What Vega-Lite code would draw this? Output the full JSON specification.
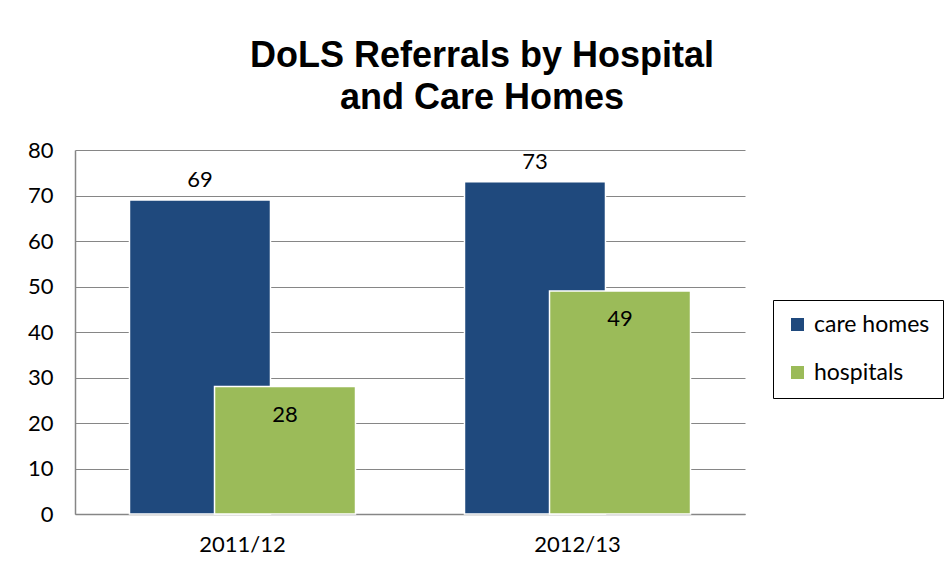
{
  "$schema": "https://vega.github.io/schema/vega-lite/v6.json",
  "autosize": "none",
  "width": 670,
  "height": 364,
  "padding": {"left": 75, "top": 150, "right": 201, "bottom": 57},
  "background": "white",
  "title": {
    "text": ["DoLS Referrals by Hospital", "and Care Homes"],
    "font": "Liberation Sans",
    "fontSize": 36,
    "fontWeight": "bold",
    "color": "#000000",
    "lineHeight": 42,
    "anchor": "middle",
    "dx": 72,
    "offset": 22
  },
  "data": {
    "values": [
      {"year": "2011/12", "type": "care homes", "value": 69},
      {"year": "2011/12", "type": "hospitals", "value": 28},
      {"year": "2012/13", "type": "care homes", "value": 73},
      {"year": "2012/13", "type": "hospitals", "value": 49}
    ]
  },
  "encoding": {
    "x": {
      "field": "year",
      "type": "nominal",
      "scale": {"paddingInner": 0, "paddingOuter": 0},
      "axis": {
        "title": null,
        "labelAngle": 0,
        "labelFont": "Lato",
        "labelFontSize": 22,
        "labelColor": "#000000",
        "labelPadding": 20,
        "ticks": false,
        "domainColor": "#868686",
        "domainWidth": 1.5,
        "grid": false
      }
    },
    "xOffset": {
      "field": "type",
      "type": "nominal",
      "scale": {"paddingInner": 0, "paddingOuter": 0.97}
    },
    "y": {
      "field": "value",
      "type": "quantitative",
      "scale": {"domain": [0, 80]},
      "axis": {
        "title": null,
        "values": [0, 10, 20, 30, 40, 50, 60, 70, 80],
        "labelFont": "Lato",
        "labelFontSize": 22,
        "labelColor": "#000000",
        "labelPadding": 22,
        "ticks": false,
        "domainColor": "#868686",
        "domainWidth": 1.5,
        "gridColor": "#868686",
        "gridWidth": 1
      }
    }
  },
  "layer": [
    {
      "mark": {"type": "bar", "width": 141, "stroke": "#ffffff", "strokeWidth": 1.5},
      "encoding": {
        "color": {
          "field": "type",
          "type": "nominal",
          "scale": {"domain": ["care homes", "hospitals"], "range": ["#1F497D", "#9BBB59"]},
          "legend": {
            "title": null,
            "orient": "none",
            "legendX": 698,
            "legendY": 150,
            "strokeColor": "#000000",
            "padding": 13,
            "symbolType": "square",
            "symbolSize": 170,
            "symbolStrokeWidth": 0,
            "labelFont": "Lato",
            "labelFontSize": 23,
            "labelColor": "#000000",
            "rowPadding": 24,
            "labelOffset": 5,
            "fillColor": "#ffffff"
          }
        }
      }
    },
    {
      "transform": [{"filter": "datum.type === 'care homes'"}],
      "mark": {"type": "text", "font": "Lato", "fontSize": 22, "color": "#000000", "baseline": "middle", "dy": -20},
      "encoding": {"text": {"field": "value", "type": "quantitative"}}
    },
    {
      "transform": [{"filter": "datum.type === 'hospitals'"}],
      "mark": {"type": "text", "font": "Lato", "fontSize": 22, "color": "#000000", "baseline": "middle", "dy": 28},
      "encoding": {"text": {"field": "value", "type": "quantitative"}}
    }
  ],
  "config": {"view": {"stroke": null}}
}
